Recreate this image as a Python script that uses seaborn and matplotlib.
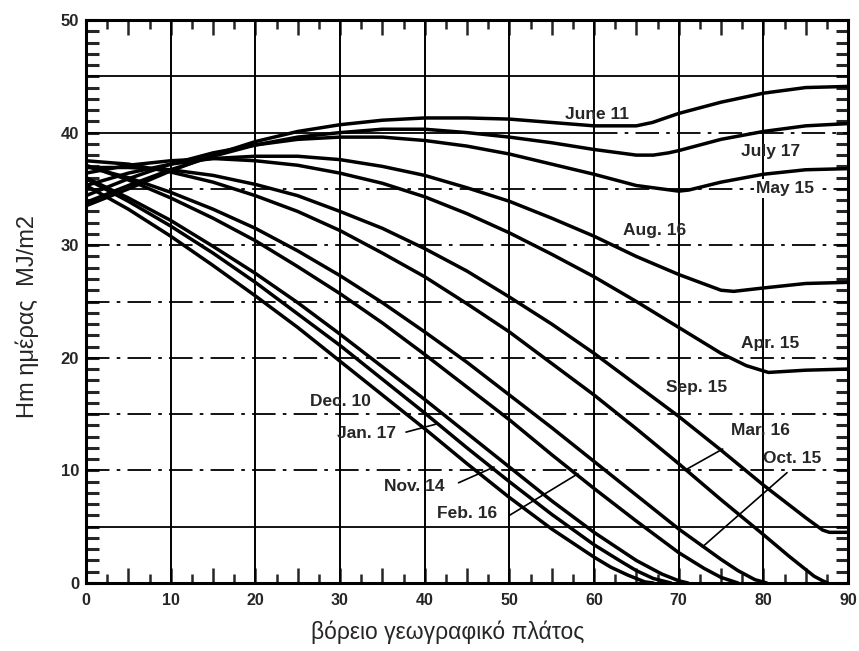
import numpy as np
import pandas as pd
import matplotlib
matplotlib.use("Agg")
import matplotlib.pyplot as plt
from matplotlib.ticker import MultipleLocator, FixedLocator, FuncFormatter
import seaborn as sns

# Daily extraterrestrial irradiation on a horizontal plane (MJ/m2)
# against northern latitude, one curve per mean day of each month.
lat_jun = [0, 5, 10, 15, 20, 25, 30, 35, 40, 45, 50, 55, 60, 65, 66.9, 70, 75, 80, 85, 90]
h_jun = [33.5, 35.0, 36.6, 38.0, 39.2, 40.1, 40.7, 41.1, 41.3, 41.3, 41.2, 40.9, 40.6, 40.6, 40.9, 41.7, 42.7, 43.5, 44.0, 44.1]

lat_jul = [0, 5, 10, 15, 20, 25, 30, 35, 40, 45, 50, 55, 60, 65, 67, 68.8, 70, 75, 80, 85, 90]
h_jul = [33.8, 35.3, 36.7, 37.9, 38.9, 39.6, 40.0, 40.3, 40.3, 40.0, 39.6, 39.1, 38.5, 38.0, 38.0, 38.2, 38.4, 39.4, 40.1, 40.6, 40.8]

lat_may = [0, 5, 10, 15, 20, 25, 30, 35, 40, 45, 50, 55, 60, 65, 70, 71.2, 75, 80, 85, 90]
h_may = [34.4, 35.9, 37.2, 38.2, 38.9, 39.4, 39.6, 39.6, 39.3, 38.8, 38.1, 37.2, 36.3, 35.3, 34.8, 34.9, 35.6, 36.3, 36.7, 36.8]

lat_aug = [0, 5, 10, 15, 20, 25, 30, 35, 40, 45, 50, 55, 60, 65, 70, 75, 76.5, 80, 85, 90]
h_aug = [35.3, 36.4, 37.2, 37.7, 37.9, 37.9, 37.6, 37.0, 36.2, 35.1, 33.9, 32.4, 30.8, 29.0, 27.4, 26.0, 25.9, 26.2, 26.6, 26.7]

lat_apr = [0, 5, 10, 15, 20, 25, 30, 35, 40, 45, 50, 55, 60, 65, 70, 75, 78, 80.6, 85, 90]
h_apr = [36.4, 37.1, 37.5, 37.7, 37.5, 37.1, 36.4, 35.5, 34.3, 32.8, 31.1, 29.2, 27.2, 25.0, 22.7, 20.4, 19.3, 18.7, 18.9, 19.0]

lat_sep = [0, 5, 10, 15, 20, 25, 30, 35, 40, 45, 50, 55, 60, 65, 70, 75, 80, 85, 87, 87.8, 90]
h_sep = [36.9, 36.9, 36.7, 36.2, 35.4, 34.4, 33.0, 31.5, 29.7, 27.7, 25.4, 23.0, 20.4, 17.6, 14.8, 11.8, 8.7, 5.8, 4.7, 4.5, 4.5]

lat_mar = [0, 5, 10, 15, 20, 25, 30, 35, 40, 45, 50, 55, 60, 65, 70, 75, 80, 83, 85, 86, 87, 87.6]
h_mar = [37.5, 37.2, 36.5, 35.6, 34.4, 33.0, 31.3, 29.3, 27.2, 24.8, 22.3, 19.5, 16.7, 13.7, 10.6, 7.4, 4.3, 2.4, 1.2, 0.6, 0.2, 0.0]

lat_oct = [0, 5, 10, 15, 20, 25, 30, 35, 40, 45, 50, 55, 60, 65, 70, 75, 77, 79, 80.4]
h_oct = [37.0, 36.0, 34.7, 33.2, 31.5, 29.5, 27.3, 24.9, 22.3, 19.6, 16.7, 13.8, 10.8, 7.8, 4.8, 2.1, 1.1, 0.3, 0.0]

lat_feb = [0, 5, 10, 15, 20, 25, 30, 35, 40, 45, 50, 55, 60, 65, 70, 73, 75, 77]
h_feb = [37.1, 35.8, 34.2, 32.4, 30.4, 28.1, 25.7, 23.1, 20.3, 17.4, 14.5, 11.4, 8.4, 5.5, 2.7, 1.3, 0.5, 0.0]

lat_nov = [0, 5, 10, 15, 20, 25, 30, 35, 40, 45, 50, 55, 60, 63, 65, 68, 70, 71.1]
h_nov = [36.0, 34.2, 32.2, 29.9, 27.5, 24.9, 22.1, 19.2, 16.3, 13.3, 10.3, 7.3, 4.5, 3.0, 2.0, 0.8, 0.2, 0.0]

lat_jan = [0, 5, 10, 15, 20, 25, 30, 35, 40, 45, 50, 55, 60, 63, 65, 67, 69.1]
h_jan = [35.9, 33.9, 31.7, 29.3, 26.7, 23.9, 21.1, 18.1, 15.1, 12.0, 9.0, 6.1, 3.4, 2.0, 1.1, 0.4, 0.0]

lat_dec = [0, 5, 10, 15, 20, 25, 30, 35, 40, 45, 50, 55, 60, 62, 64, 66, 67]
h_dec = [35.3, 33.2, 30.8, 28.2, 25.5, 22.7, 19.7, 16.7, 13.7, 10.6, 7.6, 4.8, 2.3, 1.4, 0.7, 0.1, 0.0]

days = ["June 11", "July 17", "May 15", "Aug. 16", "Apr. 15", "Sep. 15",
        "Mar. 16", "Oct. 15", "Feb. 16", "Nov. 14", "Jan. 17", "Dec. 10"]
lats = [lat_jun, lat_jul, lat_may, lat_aug, lat_apr, lat_sep,
        lat_mar, lat_oct, lat_feb, lat_nov, lat_jan, lat_dec]
vals = [h_jun, h_jul, h_may, h_aug, h_apr, h_sep,
        h_mar, h_oct, h_feb, h_nov, h_jan, h_dec]

# curve captions: (text, x, y)
captions = [
    ("June 11", 60.4, 41.6), ("July 17", 80.8, 38.3), ("May 15", 82.6, 35.0),
    ("Aug. 16", 67.1, 31.3), ("Apr. 15", 80.8, 21.3), ("Sep. 15", 72.1, 17.4),
    ("Mar. 16", 79.6, 13.5), ("Oct. 15", 83.4, 11.1), ("Dec. 10", 30.1, 16.1),
    ("Jan. 17", 33.1, 13.3), ("Nov. 14", 38.8, 8.6), ("Feb. 16", 45.0, 6.2),
]
# leader lines from captions to their curves: (x0, y0, x1, y1)
leaders = [
    (37.8, 13.4, 41.3, 14.1),
    (44.0, 8.9, 48.2, 10.3),
    (50.0, 6.0, 58.1, 9.7),
    (70.7, 10.0, 75.2, 11.9),
    (72.8, 3.2, 82.8, 9.8),
]

frames = []
for d, la, v in zip(days, lats, vals):
    frames.append(pd.DataFrame({"day": d, "lat": la, "H": v}))
df = pd.concat(frames, ignore_index=True)

sns.set_style("white")
plt.rcParams["font.family"] = ["Liberation Sans", "DejaVu Sans"]

fig = plt.figure(figsize=(8.59, 6.51), dpi=100)
ax = fig.add_axes([86 / 859, 1 - 583 / 651, (848 - 86) / 859, (583 - 20) / 651])

# grid: solid verticals, mixed solid / dash-dot horizontals
for xv in range(10, 90, 10):
    ax.axvline(xv, color="black", lw=1.4, zorder=1)
dashdot = (0, (13, 4, 2, 4))
for yv in range(5, 50, 5):
    if yv in (5, 45):
        ax.axhline(yv, color="black", lw=1.3, zorder=1)
    elif yv == 40:
        ax.plot([0, 60], [yv, yv], color="black", lw=1.3, zorder=1)
        ax.plot([60, 90], [yv, yv], color="black", lw=1.3, ls=dashdot, zorder=1)
    else:
        ax.axhline(yv, color="black", lw=1.3, linestyle=dashdot, zorder=1)

sns.lineplot(data=df, x="lat", y="H", hue="day", hue_order=days,
             palette=["black"] * len(days), estimator=None, sort=False,
             linewidth=2.5, legend=False, ax=ax, zorder=3)

for text, x, y in captions:
    kw = {}
    if text == "May 15":
        kw["bbox"] = dict(facecolor="white", edgecolor="none", pad=1.5)
    ax.text(x, y, text, ha="center", va="center", fontsize=12.5,
            fontweight="bold", zorder=5, **kw)
for x0, y0, x1, y1 in leaders:
    ax.plot([x0, x1], [y0, y1], color="black", lw=1.2, zorder=4)

ax.set_xlim(0, 90)
ax.set_ylim(0, 50)

ax.xaxis.set_major_locator(MultipleLocator(5))
ax.xaxis.set_minor_locator(FixedLocator(np.arange(2.5, 90, 5)))
ax.xaxis.set_major_formatter(FuncFormatter(lambda v, p: f"{int(round(v))}" if round(v) % 10 == 0 else ""))
ax.yaxis.set_major_locator(MultipleLocator(10))
ax.yaxis.set_minor_locator(MultipleLocator(1))

ax.tick_params(axis="x", which="major", direction="in", length=11, width=1.8,
               top=True, bottom=True, labelsize=11.5, pad=7)
ax.tick_params(axis="x", which="minor", direction="in", length=6.5, width=1.8,
               top=True, bottom=True)
ax.tick_params(axis="y", which="both", direction="in", length=9, width=2.2,
               left=True, right=True, labelsize=12, pad=5)
for lab in ax.get_xticklabels() + ax.get_yticklabels():
    lab.set_fontweight("bold")

for sp in ax.spines.values():
    sp.set_linewidth(2.2)
    sp.set_color("black")

ax.set_xlabel("")
ax.set_ylabel("")
fig.text(448 / 859, 1 - 632 / 651, "βόρειο γεωγραφικό πλάτος",
         ha="center", va="center", fontsize=16.5)
fig.text(27 / 859, 1 - 316 / 651, "Hm ημέρας  MJ/m2", rotation=90,
         ha="center", va="center", fontsize=17)

fig.savefig("out.png", dpi=100)
